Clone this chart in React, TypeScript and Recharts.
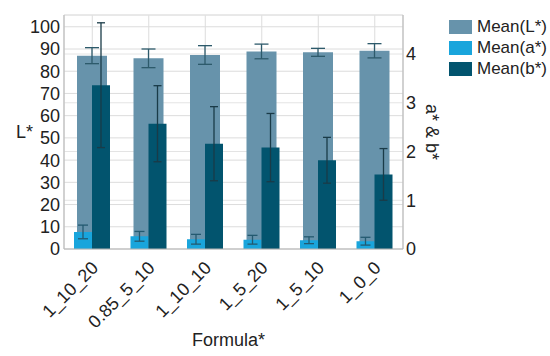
import React from 'react'
import {Bar, CartesianGrid, ComposedChart, ErrorBar, Legend, XAxis, YAxis} from 'recharts'

const formulas = ['1_10_20', '0.85_5_10', '1_10_10', '1_5_20', '1_5_10', '1_0_0']
const meanL = [87.0, 85.8, 87.3, 88.9, 88.5, 89.2]
const errL = [3.6, 4.2, 4.2, 3.3, 1.8, 3.2]
const meanA = [0.35, 0.26, 0.2, 0.19, 0.18, 0.16]
const errA = [0.14, 0.1, 0.1, 0.09, 0.07, 0.08]
const meanB = [3.36, 2.57, 2.16, 2.08, 1.82, 1.53]
const errB = [1.28, 0.78, 0.76, 0.7, 0.47, 0.53]

const lTicks = [0, 10, 20, 30, 40, 50, 60, 70, 80, 90, 100]
const abTicks = [0, 1, 2, 3, 4]

const data = formulas.map((name, i) => ({
    name,
    L: meanL[i],
    Lerr: errL[i],
    a: meanA[i],
    aerr: errA[i],
    b: meanB[i],
    berr: errB[i],
}))

const font = '"Liberation Sans", Arial, sans-serif'
const colL = '#6793ab'
const colA = '#19a5dc'
const colB = '#02546e'

const legendItems = [
    {name: 'Mean(L*)', color: colL},
    {name: 'Mean(a*)', color: colA},
    {name: 'Mean(b*)', color: colB},
]

const FormulaTick = (props: any) => {
    const {x, y, payload} = props
    const ex = x + 7
    const ey = y + 18
    return (
        <text x={ex} y={ey} transform={`rotate(-45, ${ex}, ${ey})`} textAnchor='end'
              fontSize={18} fontFamily={font} fill='#222'>
            {payload.value}
        </text>
    )
}

const renderLegend = () => (
    <div style={{fontFamily: font, fontSize: 17, color: '#222'}}>
        {legendItems.map(it => (
            <div key={it.name} style={{display: 'flex', alignItems: 'center', height: 20.7}}>
                <span style={{width: 23, height: 14, background: it.color, marginRight: 5, display: 'inline-block'}} />
                {it.name}
            </div>
        ))}
    </div>
)

const App = () => {
    return (
        <div style={{position: 'absolute', left: 0, top: 0}}>
            <ComposedChart width={550} height={356} data={data} barGap={0}
                           margin={{top: 15, right: 0, left: 0, bottom: 0}}>
                <CartesianGrid xAxisId='a' yAxisId='left' stroke='#dcdcdc' />
                <CartesianGrid xAxisId='a' yAxisId='right' stroke='#e4e4e4' vertical={false} />
                <XAxis xAxisId='a' dataKey='name' height={107} tick={<FormulaTick />} tickSize={0}
                       interval={0} stroke='#b5b5b5'
                       label={{value: 'Formula*', position: 'insideBottom', offset: 10, dx: -5,
                           fontSize: 18, fontFamily: font, fill: '#222'}} />
                <XAxis xAxisId='b' dataKey='name' orientation='top' height={0} tick={false}
                       tickLine={false} stroke='#b5b5b5' />
                <YAxis yAxisId='left' width={64} domain={[0, 105.3]} ticks={lTicks} tickSize={0}
                       interval={0} tickMargin={4} stroke='#b5b5b5' allowDataOverflow
                       tick={{fontSize: 18, fontFamily: font, fill: '#222'}}
                       label={{value: 'L*', position: 'insideLeft', offset: 16,
                           fontSize: 18, fontFamily: font, fill: '#222'}} />
                <YAxis yAxisId='right' orientation='right' width={47} domain={[0, 4.8]} ticks={abTicks}
                       interval={0} tickSize={0} tickMargin={3} stroke='#b5b5b5' allowDataOverflow
                       tick={{fontSize: 18, fontFamily: font, fill: '#222'}}
                       label={{value: 'a* & b*', angle: 90, position: 'center', dx: 6,
                           fontSize: 18, fontFamily: font, fill: '#222'}} />
                <Legend layout='vertical' align='right' verticalAlign='top' content={renderLegend}
                        wrapperStyle={{left: 449, top: 17, width: 100}} />
                <Bar xAxisId='a' yAxisId='left' dataKey='L' name='Mean(L*)' fill={colL} barSize={30}
                     isAnimationActive={false}>
                    <ErrorBar dataKey='Lerr' width={7} stroke='#2d5a6b' strokeWidth={1.3} />
                </Bar>
                <Bar xAxisId='b' yAxisId='right' dataKey='a' name='Mean(a*)' fill={colA} barSize={18}
                     isAnimationActive={false}>
                    <ErrorBar dataKey='aerr' width={5} stroke='#245a70' strokeWidth={1.3} />
                </Bar>
                <Bar xAxisId='b' yAxisId='right' dataKey='b' name='Mean(b*)' fill={colB} barSize={18}
                     isAnimationActive={false}>
                    <ErrorBar dataKey='berr' width={4} stroke='#1a3b48' strokeWidth={1.3} />
                </Bar>
            </ComposedChart>
        </div>
    )
}

export default App
